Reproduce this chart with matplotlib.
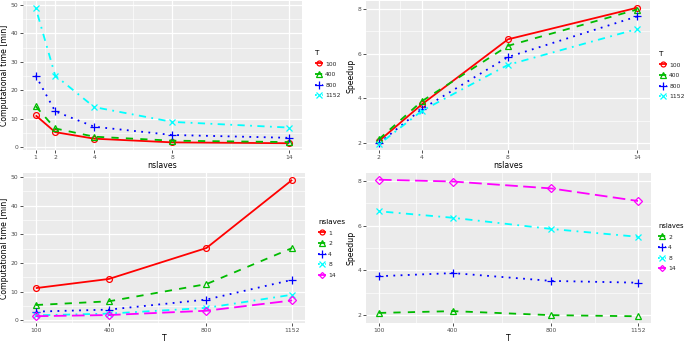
import numpy as np
import matplotlib
matplotlib.use("Agg")
import matplotlib.pyplot as plt

# data
nslaves = [1, 2, 4, 8, 14]
T_vals = [100, 400, 800, 1152]

# computational time [min], one list per T (over nslaves)
time_T100 = [11.2, 5.3, 3.0, 1.7, 1.4]
time_T400 = [14.4, 6.6, 3.7, 2.3, 1.8]
time_T800 = [25.2, 12.6, 7.2, 4.3, 3.3]
time_T1152 = [49.0, 25.2, 14.1, 8.9, 6.9]

# speedup, one list per T (over nslaves 2,4,8,14)
speed_nslaves = [2, 4, 8, 14]
speed_T100 = [2.10, 3.74, 6.64, 8.05]
speed_T400 = [2.18, 3.88, 6.35, 7.97]
speed_T800 = [2.00, 3.53, 5.85, 7.66]
speed_T1152 = [1.95, 3.45, 5.50, 7.10]

time_by_T = [time_T100, time_T400, time_T800, time_T1152]
speed_by_T = [speed_T100, speed_T400, speed_T800, speed_T1152]

# styles per group
colors = ["#FF0000", "#00BB00", "#0000FF", "#00FFFF", "#FF00FF"]
markers = ["o", "^", "+", "x", "D"]
dashes = [None, (4, 4), (1, 3), (1, 3, 4, 3), (7, 3)]
msizes = [4.2, 4.6, 6, 4.6, 3.6]

W, H = 685, 343
fig = plt.figure(figsize=(W / 100, H / 100), dpi=100)

BG = "#EBEBEB"
TXT = "#4D4D4D"
LAB = 5.6


def make_ax(x0, y0, x1, y1):
    ax = fig.add_axes([x0 / W, 1 - y1 / H, (x1 - x0) / W, (y1 - y0) / H])
    ax.set_facecolor(BG)
    for s in ax.spines.values():
        s.set_visible(False)
    ax.tick_params(axis="both", length=2, width=0.6, color="#333333",
                   labelsize=4.3, labelcolor=TXT, pad=1.5)
    ax.tick_params(which="minor", length=0)
    ax.grid(True, which="major", color="white", lw=0.9)
    ax.grid(True, which="minor", color="white", lw=0.45)
    ax.set_axisbelow(True)
    return ax


def draw(ax, x, y, i, label):
    ln, = ax.plot(x, y, color=colors[i], lw=1.3, marker=markers[i],
                  ms=msizes[i], mfc="none", mec=colors[i], mew=0.9,
                  label=label, solid_capstyle="butt")
    if dashes[i] is not None:
        ln.set_dashes(dashes[i])


def minor_mid(b):
    return [(a + c) / 2 for a, c in zip(b[:-1], b[1:])]


def add_legend(ax, title, x, y, tsize=5.2):
    leg = ax.legend(title=title, loc="upper left",
                    bbox_to_anchor=(x / W, 1 - y / H),
                    bbox_transform=fig.transFigure, frameon=False,
                    fontsize=4.3, title_fontsize=tsize, handlelength=1.4,
                    labelspacing=0.9, borderpad=0, handletextpad=0.3,
                    markerscale=0.85)
    leg._legend_box.align = "left"
    for t in leg.get_texts():
        t.set_color("#222222")


def labels(ax, xl, yl):
    ax.set_xlabel(xl, fontsize=LAB, color="black", labelpad=1)
    ax.set_ylabel(yl, fontsize=LAB, color="black", labelpad=1)


# top left: time vs nslaves
ax1 = make_ax(23, 1, 302, 150)
for i, (T, ys) in enumerate(zip(T_vals, time_by_T)):
    draw(ax1, nslaves, ys, i, str(T))
ax1.set_xticks(nslaves)
ax1.set_xticks([0.5] + minor_mid(nslaves), minor=True)
ax1.set_yticks(range(0, 51, 10))
ax1.set_yticks(range(5, 50, 10), minor=True)
ax1.set_xlim(0.35, 14.65)
ax1.set_ylim(-0.98, 51.4)
labels(ax1, "nslaves", "Computational time [min]")
add_legend(ax1, "T", 312, 47)

# top right: speedup vs nslaves
ax2 = make_ax(366, 1, 650, 150)
for i, (T, ys) in enumerate(zip(T_vals, speed_by_T)):
    draw(ax2, speed_nslaves, ys, i, str(T))
ax2.set_xticks(speed_nslaves)
ax2.set_xticks(minor_mid(speed_nslaves), minor=True)
ax2.set_yticks([2, 4, 6, 8])
ax2.set_yticks([3, 5, 7], minor=True)
ax2.set_xlim(1.4, 14.6)
ax2.set_ylim(1.7, 8.35)
labels(ax2, "nslaves", "Speedup")
add_legend(ax2, "T", 656, 48)

# bottom left: time vs T, one line per nslaves
ax3 = make_ax(23, 173, 305, 323)
for i, n in enumerate(nslaves):
    ys = [time_by_T[k][i] for k in range(len(T_vals))]
    draw(ax3, T_vals, ys, i, str(n))
ax3.set_xticks(T_vals)
ax3.set_xticks(minor_mid(T_vals), minor=True)
ax3.set_yticks(range(0, 51, 10))
ax3.set_yticks(range(5, 50, 10), minor=True)
ax3.set_xlim(47.4, 1204.6)
ax3.set_ylim(-0.98, 51.4)
labels(ax3, "T", "Computational time [min]")
add_legend(ax3, "nslaves", 315, 216)

# bottom right: speedup vs T, one line per nslaves (2..14)
ax4 = make_ax(366, 173, 651, 323)
for j, n in enumerate(speed_nslaves):
    ys = [speed_by_T[k][j] for k in range(len(T_vals))]
    draw(ax4, T_vals, ys, j + 1, str(n))
ax4.set_xticks(T_vals)
ax4.set_xticks(minor_mid(T_vals), minor=True)
ax4.set_yticks([2, 4, 6, 8])
ax4.set_yticks([3, 5, 7], minor=True)
ax4.set_xlim(47.4, 1204.6)
ax4.set_ylim(1.65, 8.35)
labels(ax4, "T", "Speedup")
add_legend(ax4, "nslaves", 655, 220, tsize=4.9)

fig.savefig("out.png", dpi=100)
